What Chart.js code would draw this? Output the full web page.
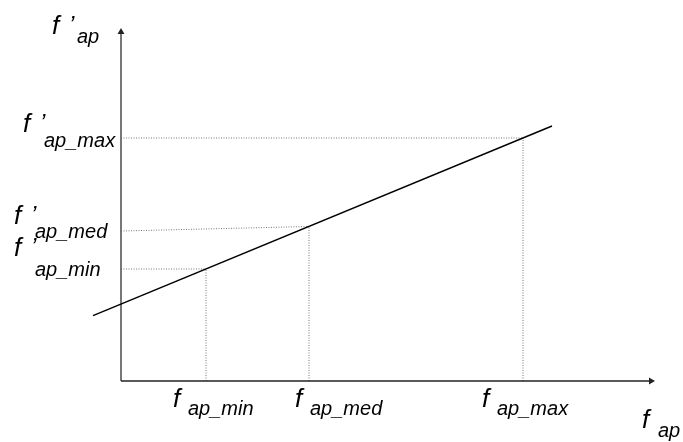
<!DOCTYPE html>
<html lang="en">
<head>
  <meta charset="UTF-8">
  <title>f'ap vs fap</title>
  <script src="https://cdn.jsdelivr.net/npm/chart.js"></script>
  <style>
    html, body { margin: 0; padding: 0; background: #fff; }
    #wrap { width: 683px; height: 442px; }
  </style>
</head>
<body>
  <div id="wrap"><canvas id="myChart"></canvas></div>
  <script>
    // tick names (subscripts)
    const tickNames = ['min', 'med', 'max'];
    // f_ap values on the x axis
    const fapTicks = [0.85, 1.88, 4.02];
    // f'_ap values where the line is hit
    const fpapOnLine = [1.12, 1.545, 2.43];
    // f'_ap values where the dotted guides meet the y axis
    const fpapTicks = [1.12, 1.50, 2.43];
    // the straight characteristic line
    const lineX = [-0.28, 4.31];
    const lineY = [0.653, 2.55];
    // axis ends
    const axisXEnd = 5.30;
    const axisYEnd = 3.49;

    const dotted = { borderColor: '#777', borderWidth: 1, borderDash: [1, 1.5], pointRadius: 0, showLine: true, clip: false };

    const datasets = [
      {
        data: lineX.map((x, i) => ({ x: x, y: lineY[i] })),
        borderColor: '#000', borderWidth: 1.4, pointRadius: 0, showLine: true, clip: false
      },
      {
        data: [{ x: 0, y: 0 }, { x: axisXEnd, y: 0 }],
        borderColor: '#222', backgroundColor: '#222', borderWidth: 1.6, showLine: true, clip: false,
        pointStyle: 'triangle', rotation: 90, pointRadius: [0, 4], pointBorderWidth: 0
      },
      {
        data: [{ x: 0, y: 0 }, { x: 0, y: axisYEnd }],
        borderColor: '#555', backgroundColor: '#222', borderWidth: 1.6, showLine: true, clip: false,
        pointStyle: 'triangle', rotation: 0, pointRadius: [0, 4], pointBorderWidth: 0
      }
    ];
    fapTicks.forEach((fx, i) => {
      datasets.push(Object.assign({ data: [{ x: 0, y: fpapTicks[i] }, { x: fx, y: fpapOnLine[i] }] }, dotted));
      datasets.push(Object.assign({ data: [{ x: fx, y: 0 }, { x: fx, y: fpapOnLine[i] }] }, dotted));
    });

    // draws "f" with a subscript (and optional prime); sub is placed at (x+subDx, subY)
    function drawLabel(ctx, x, y, prime, sub, subDx, subY) {
      ctx.fillStyle = '#000';
      ctx.textBaseline = 'alphabetic';
      ctx.textAlign = 'left';
      ctx.font = 'italic 26px "Liberation Sans", Arial, sans-serif';
      ctx.fillText('f', x, y);
      if (prime) {
        ctx.font = 'italic 24px "Liberation Sans", Arial, sans-serif';
        ctx.fillText('\u2019', x + 17, y - 1);
      }
      ctx.font = 'italic 20px "Liberation Sans", Arial, sans-serif';
      ctx.fillText(sub, x + subDx, subY);
    }

    // label offsets (px) relative to the tick position
    const xLabelDx = [-33, -14, -41];
    const yLabelFDy = [-13, -7, -6];
    const yLabelSubDy = [7, 7, 9];
    const yLabelLeft = [14, 14, 23];

    const labelPlugin = {
      id: 'labels',
      afterDraw(chart) {
        const ctx = chart.ctx;
        const sx = chart.scales.x, sy = chart.scales.y;
        const y0 = sy.getPixelForValue(0);
        ctx.save();
        fapTicks.forEach((v, i) => {
          const px = sx.getPixelForValue(v);
          drawLabel(ctx, px + xLabelDx[i], y0 + 26, false, 'ap_' + tickNames[i], 15, y0 + 34);
        });
        fpapTicks.forEach((v, i) => {
          const py = sy.getPixelForValue(v);
          drawLabel(ctx, yLabelLeft[i], py + yLabelFDy[i], true, 'ap_' + tickNames[i], 21, py + yLabelSubDy[i]);
        });
        // axis names
        drawLabel(ctx, 52, 34, true, 'ap', 25, 43);
        drawLabel(ctx, sx.getPixelForValue(axisXEnd) - 9, 428, false, 'ap', 16, 437);
        ctx.restore();
      }
    };

    const ctx = document.getElementById('myChart').getContext('2d');
    const myChart = new Chart(ctx, {
      type: 'scatter',
      data: { datasets: datasets },
      options: {
        responsive: true,
        maintainAspectRatio: false,
        animation: false,
        layout: { padding: { left: 81, right: 22, top: 21, bottom: 41 } },
        plugins: { legend: { display: false }, tooltip: { enabled: false } },
        scales: {
          x: { type: 'linear', display: false, min: -0.4, max: 5.4 },
          y: { type: 'linear', display: false, min: -0.2, max: 3.6 }
        }
      },
      plugins: [labelPlugin]
    });
  </script>
</body>
</html>
